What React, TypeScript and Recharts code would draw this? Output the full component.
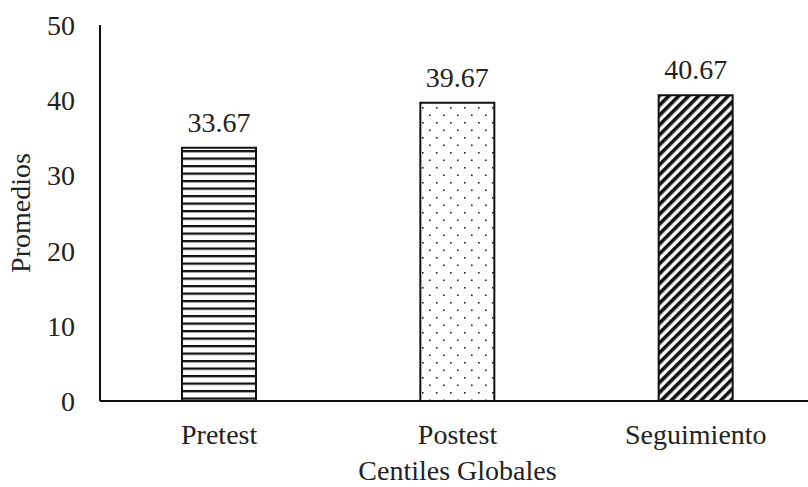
import React from 'react';
import { BarChart, Bar, XAxis, YAxis, LabelList, Cell } from 'recharts';

const categories = ['Pretest', 'Postest', 'Seguimiento'];
const values = [33.67, 39.67, 40.67];
const yTicks = [0, 10, 20, 30, 40, 50];
const fills = ['url(#pHoriz)', 'url(#pDots)', 'url(#pDiag)'];

const data = categories.map((c, i) => ({ name: c, value: values[i] }));

const font = '"Liberation Serif", "Times New Roman", serif';
const txt = { fontFamily: font, fontSize: 28, fill: '#222' };

export default function App() {
  return (
    <div style={{ position: 'absolute', left: 0, top: 0, width: 808, height: 487, overflow: 'hidden', background: '#fff' }}>
      <svg width={0} height={0} style={{ position: 'absolute' }}>
        <defs>
          <pattern id="pHoriz" patternUnits="userSpaceOnUse" width={10} height={7.5}>
            <rect x={0} y={0} width={10} height={7.5} fill="#fff" />
            <rect x={0} y={0} width={10} height={2.3} fill="#111" />
          </pattern>
          <pattern id="pDots" patternUnits="userSpaceOnUse" width={14} height={15}>
            <rect x={0} y={0} width={14} height={15} fill="#fff" />
            <rect x={2} y={2} width={1.6} height={1.6} fill="#222" />
            <rect x={9} y={9.5} width={1.6} height={1.6} fill="#222" />
          </pattern>
          <pattern id="pDiag" patternUnits="userSpaceOnUse" width={7} height={7} patternTransform="rotate(45)">
            <rect x={0} y={0} width={7} height={7} fill="#fff" />
            <rect x={0} y={0} width={3.6} height={7} fill="#111" />
          </pattern>
        </defs>
      </svg>
      <BarChart width={815} height={487} data={data} margin={{ top: 25, right: 0, bottom: 0, left: 0 }} barCategoryGap={0}>
        <XAxis
          dataKey="name"
          height={86}
          tickLine={false}
          tickSize={0}
          tickMargin={23}
          axisLine={{ stroke: '#111', strokeWidth: 2 }}
          tick={txt}
          label={{ value: 'Centiles Globales', position: 'insideBottom', offset: 7, style: { ...txt } }}
        />
        <YAxis
          width={100}
          domain={[0, 50]}
          ticks={yTicks}
          interval={0}
          tickLine={false}
          tickSize={0}
          tickMargin={25}
          axisLine={{ stroke: '#111', strokeWidth: 2 }}
          tick={txt}
          label={{ value: 'Promedios', angle: -90, position: 'insideLeft', offset: 20, style: { ...txt, textAnchor: 'middle' } }}
        />
        <Bar dataKey="value" barSize={74} stroke="#111" strokeWidth={2} isAnimationActive={false}>
          {data.map((d, i) => (
            <Cell key={d.name} fill={fills[i]} />
          ))}
          <LabelList dataKey="value" position="top" offset={16} style={txt} formatter={(v: number) => v.toFixed(2)} />
        </Bar>
      </BarChart>
    </div>
  );
}
